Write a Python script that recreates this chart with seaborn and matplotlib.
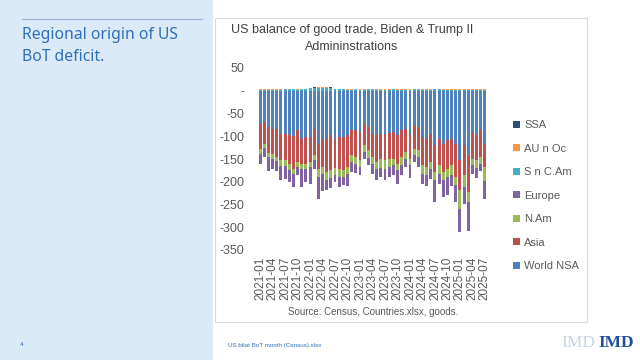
import numpy as np
import pandas as pd
import matplotlib
matplotlib.use('Agg')
import matplotlib.pyplot as plt
import seaborn as sns
from matplotlib.patches import Rectangle, Patch
from matplotlib.lines import Line2D

# monthly categories 2021-01 .. 2025-07
months = pd.period_range('2021-01', '2025-07', freq='M').strftime('%Y-%m').tolist()

world_nsa = [-72, -68, -79, -83, -85, -94, -95, -97, -100, -86,
             -105, -102, -101, -83, -116, -105, -105, -97, -105, -101,
             -101, -97, -86, -86, -90, -72, -79, -94, -97, -94,
             -94, -92, -90, -97, -86, -83, -94, -75, -79, -101,
             -105, -94, -119, -105, -116, -108, -105, -116, -153, -119,
             -142, -90, -97, -86, -116]
asia = [-55, -48, -58, -55, -60, -59, -58, -64, -72, -70,
        -55, -58, -55, -59, -55, -63, -74, -77, -64, -70,
        -74, -70, -55, -59, -63, -48, -52, -52, -59, -55,
        -59, -57, -59, -63, -60, -52, -55, -52, -52, -63,
        -63, -63, -59, -59, -63, -63, -59, -74, -66, -66,
        -81, -59, -55, -59, -52]
n_am = [-13, -9, -9, -11, -9, -13, -13, -13, -11, -12,
        -11, -11, -11, -11, -18, -15, -18, -18, -17, -18,
        -15, -15, -15, -16, -15, -15, -16, -15, -15, -20,
        -18, -18, -15, -15, -18, -15, -15, -15, -15, -18,
        -18, -15, -18, -18, -18, -18, -22, -18, -40, -26,
        -22, -15, -18, -15, -30]
europe = [-21, -21, -30, -22, -22, -30, -29, -26, -28, -17,
          -40, -30, -37, -18, -48, -37, -22, -22, -15, -22,
          -18, -28, -22, -19, -18, -16, -17, -22, -26, -21,
          -26, -22, -22, -30, -21, -18, -27, -15, -22, -22,
          -24, -22, -48, -22, -37, -41, -24, -37, -52, -37,
          -63, -18, -22, -16, -41]
s_c_am = [2.5, 2.5, 2, 2.5, 2.5, 2.5, 3, 3, 3, 2.5,
          3, 3, 5, 6, 7, 7, 6.5, 6, 3, 3,
          3, 2.5, 2.5, 3, 2.5, 2.5, 3, 3, 2.5, 2.5,
          2.5, 2.5, 3, 2.5, 2.5, 2.5, 2.5, 3, 3, 2.5,
          2.5, 2.5, 3, 3, 2.5, 2, 2, 2.5, 2, 2,
          2, 2.5, 2.5, 2.5, 2]
au_oc = [1, 1, 1, 1, 1, 1, 1, 1, 1, 1,
         1, 1, 1, 1, 1.5, 1.5, 1.5, 1, 1, 1,
         1, 1, 1, 1, 1, 1, 1, 1, 1, 1,
         1, 1, 1, 1, 1, 1, 1, 1.5, 1.5, 1.5,
         1.5, 1.5, 1.5, 1, 1, 1, 1, 1, 1, 1,
         1, 1, 1, 1, 1]
ssa = [0.3] * len(months)

series = {'World NSA': world_nsa, 'Asia': asia, 'N.Am': n_am, 'Europe': europe,
          'S n C.Am': s_c_am, 'AU n Oc': au_oc, 'SSA': ssa}
colors = {'World NSA': '#4F81BD', 'Asia': '#C0504D', 'N.Am': '#9BBB59',
          'Europe': '#8064A2', 'S n C.Am': '#4BACC6', 'AU n Oc': '#F79646',
          'SSA': '#2C4D75'}
neg_order = ['World NSA', 'Asia', 'N.Am', 'Europe']
pos_order = ['S n C.Am', 'AU n Oc', 'SSA']

df = pd.DataFrame(series)
df['month'] = months
neg_cum = df[neg_order].cumsum(axis=1)
pos_cum = df[pos_order].cumsum(axis=1)

sns.set_theme(style='white')
plt.rcParams['font.family'] = ['Liberation Sans', 'DejaVu Sans']

W, H = 640, 360
fig = plt.figure(figsize=(6.4, 3.6), dpi=100)
fig.patch.set_facecolor('white')

def px(x0, y0, x1, y1):
    return [x0 / W, 1 - y1 / H, (x1 - x0) / W, (y1 - y0) / H]

# slide decorations
fig.patches.append(Rectangle((0, 0), 213 / W, 1, transform=fig.transFigure,
                             facecolor='#DAEAF7', edgecolor='none', zorder=0))
fig.patches.append(Rectangle((215 / W, 1 - 322 / H), 372 / W, 304 / H,
                             transform=fig.transFigure, facecolor='white',
                             edgecolor='#D9D9D9', linewidth=0.8, zorder=1))
fig.lines.append(Line2D([22 / W, 202 / W], [1 - 19 / H, 1 - 19 / H],
                        transform=fig.transFigure, color='#9DB5D0', linewidth=0.9))
fig.text(22 / W, 1 - 35 / H, 'Regional origin of US', fontsize=11.3, color='#2F6EBA',
         va='center', ha='left', family=['Noto Sans', 'DejaVu Sans'])
fig.text(22 / W, 1 - 57 / H, 'BoT deficit.', fontsize=11.3, color='#2F6EBA',
         va='center', ha='left', family=['Noto Sans', 'DejaVu Sans'])
fig.text(20 / W, 1 - 345 / H, '4', fontsize=4.5, color='#2F6EBA', va='center')
fig.text(228 / W, 1 - 345 / H, 'US bilat BoT month (Census).xlsx', fontsize=4.5,
         color='#2F6EBA', va='center')
fig.text(595 / W, 1 - 343 / H, 'IMD', fontsize=12.5, color='#C8D5E8', ha='right',
         va='center', family='Liberation Serif')
fig.text(598 / W, 1 - 343 / H, 'IMD', fontsize=12.5, color='#1F4E9A', ha='left',
         va='center', family='Liberation Serif', weight='bold')

# chart
ax = fig.add_axes(px(258, 68, 487, 250))
ax.set_zorder(2)
for name in reversed(neg_order):
    sns.barplot(x=df['month'], y=neg_cum[name], color=colors[name], width=0.7,
                saturation=1, errorbar=None, linewidth=0, edgecolor='none', ax=ax)
for name in reversed(pos_order):
    sns.barplot(x=df['month'], y=pos_cum[name], color=colors[name], width=0.7,
                saturation=1, errorbar=None, linewidth=0, edgecolor='none', ax=ax)

ax.set_xlim(-0.5, len(months) - 0.5)
ax.set_ylim(-350, 50)
yt = list(range(-350, 51, 50))
ax.set_yticks(yt)
ax.set_yticklabels(['-' if v == 0 else str(v) for v in yt])
ax.set_xticks(range(0, len(months), 3))
ax.set_xticklabels(months[::3], rotation=90)
ax.tick_params(axis='y', length=0, pad=10, labelsize=9, labelcolor='#595959')
ax.tick_params(axis='x', length=0, pad=5, labelsize=8.5, labelcolor='#595959')
ax.set_xlabel('')
ax.set_ylabel('')
sns.despine(ax=ax, left=True, bottom=True)
ax.patch.set_alpha(0)

fig.text(352 / W, 1 - 30 / H, 'US balance of good trade, Biden & Trump II',
         fontsize=9, color='#404040', ha='center', va='center')
fig.text(352 / W, 1 - 47 / H, 'Admininstrations', fontsize=9, color='#404040',
         ha='center', va='center')
fig.text(373 / W, 1 - 312 / H, 'Source: Census, Countries.xlsx, goods.',
         fontsize=7, color='#595959', ha='center', va='center')

labels = ['SSA', 'AU n Oc', 'S n C.Am', 'Europe', 'N.Am', 'Asia', 'World NSA']
handles = [Patch(facecolor=colors[n], edgecolor='none') for n in labels]
fig.legend(handles, labels, loc='upper left', bbox_to_anchor=(513 / W, 1 - 120 / H),
           frameon=False, fontsize=8, handlelength=0.6, handleheight=0.6,
           handletextpad=0.4, labelspacing=1.22, labelcolor='#595959',
           borderaxespad=0, borderpad=0)

fig.savefig('out.png', dpi=100)
